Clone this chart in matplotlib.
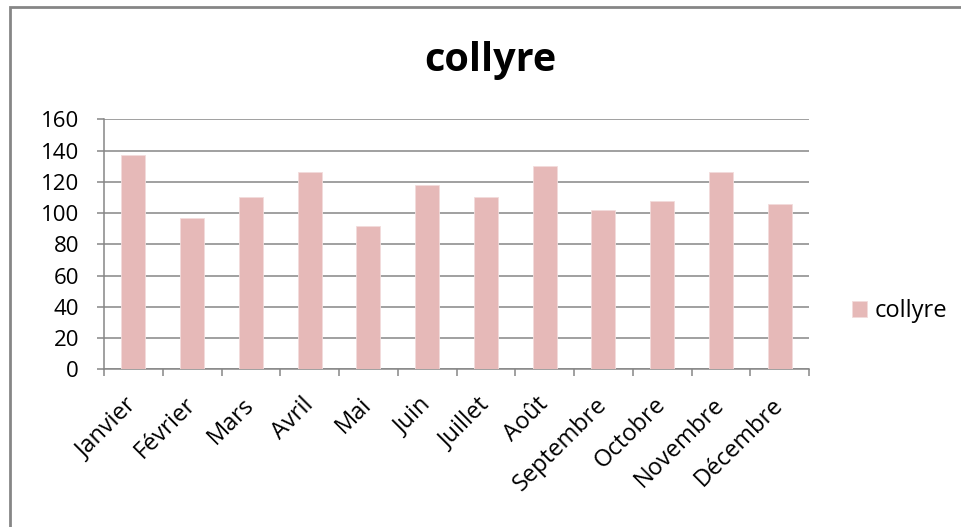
import matplotlib
matplotlib.use("Agg")
import matplotlib.pyplot as plt
from matplotlib.patches import Rectangle

categories = ["Janvier", "Février", "Mars", "Avril", "Mai", "Juin", "Juillet",
              "Août", "Septembre", "Octobre", "Novembre", "Décembre"]
values = [137, 97, 110, 126, 92, 118, 110, 130, 102, 108, 126, 106]
series_name = "collyre"
title = "collyre"
yticks = [0, 20, 40, 60, 80, 100, 120, 140, 160]

W, H, DPI = 961, 527, 100
plt.rcParams['font.family'] = ['Open Sans', 'DejaVu Sans']

fig = plt.figure(figsize=(W / DPI, H / DPI), dpi=DPI)
fig.patch.set_facecolor('white')

# outer chart frame
fig.patches.append(Rectangle((9.5 / W, -0.5), 2.0, 1.5 - 7.0 / H,
                             transform=fig.transFigure, fill=False,
                             edgecolor='#868686', linewidth=2.0))

gray = '#868686'
ax = fig.add_axes([104 / W, (H - 369.3) / H, (809 - 104) / W, 250 / H])
x = list(range(len(categories)))
ax.bar(x, values, width=0.41, color='#E6B9B8', edgecolor='#F2DCDB',
       linewidth=0.6, label=series_name, zorder=3)

ax.set_xlim(-0.5, len(categories) - 0.5)
ax.set_ylim(0, 160)
ax.set_yticks(yticks)
ax.yaxis.grid(True, color=gray, linewidth=1.1, zorder=0)
ax.set_axisbelow(True)

for s in ['top', 'right']:
    ax.spines[s].set_visible(False)
for s in ['left', 'bottom']:
    ax.spines[s].set_color(gray)
    ax.spines[s].set_linewidth(1.1)

ax.tick_params(axis='y', length=5, width=1.1, color=gray, labelsize=16, pad=13)
ax.set_yticklabels([str(v) for v in yticks])

ax.set_xticks([i - 0.5 for i in range(len(categories) + 1)])
ax.set_xticklabels([])
ax.tick_params(axis='x', length=5, width=1.1, color=gray)
ax.set_xticks(x, minor=True)
ax.set_xticklabels(categories, minor=True, rotation=45, ha='right',
                   va='center', rotation_mode='anchor', fontsize=17)
ax.tick_params(axis='x', which='minor', length=0, pad=23)

fig.text(490 / W, 1 - 60 / H, title, ha='center', va='center',
         fontsize=28.5, fontweight='bold')

fig.legend(loc='center left', bbox_to_anchor=(852 / W, 1 - 311 / H),
           frameon=False, fontsize=17, handlelength=0.65, handleheight=0.65,
           handletextpad=0.3, borderpad=0, borderaxespad=0)

fig.savefig('out.png', dpi=DPI)
